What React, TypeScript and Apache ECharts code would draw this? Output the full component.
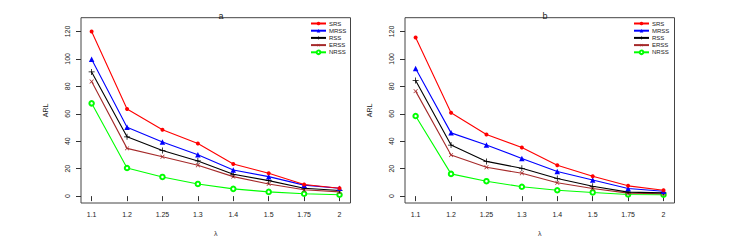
import React, { useEffect, useRef } from "react";
import * as echarts from "echarts";

const lambdas = ["1.1", "1.2", "1.25", "1.3", "1.4", "1.5", "1.75", "2"];
const yTicks = [0, 20, 40, 60, 80, 100, 120];
const seriesNames = ["SRS", "MRSS", "RSS", "ERSS", "NRSS"];

// Panel a
const aSRS = [120, 63.5, 48.3, 38.4, 23.4, 16.7, 8.5, 5.8];
const aMRSS = [99.7, 50.2, 39.4, 30.2, 19.1, 14.2, 8.0, 5.8];
const aRSS = [90.5, 43.2, 33.3, 25.6, 15.9, 11.3, 5.8, 4.1];
const aERSS = [83.5, 34.8, 28.7, 22.5, 14.2, 8.9, 4.6, 3.1];
const aNRSS = [67.6, 20.5, 14.0, 8.9, 5.3, 3.1, 1.7, 1.0];

// Panel b
const bSRS = [115.6, 60.8, 44.9, 35.5, 22.5, 14.5, 7.5, 4.3];
const bMRSS = [93.0, 46.1, 37.2, 27.5, 17.9, 11.8, 5.6, 3.6];
const bRSS = [84.3, 37.2, 25.3, 20.3, 12.8, 7.2, 2.9, 2.4];
const bERSS = [76.5, 29.9, 21.0, 16.7, 9.7, 5.6, 2.2, 1.7];
const bNRSS = [58.4, 16.2, 10.9, 6.8, 4.3, 2.7, 1.2, 1.0];

const colors = ["#ff0000", "#0000ff", "#000000", "#a52a2a", "#00ff00"];
const plusPath =
  "path://M3.5,0h1v3.5h3.5v1h-3.5v3.5h-1v-3.5h-3.5v-1h3.5z";
const symbols = ["circle", "triangle", plusPath, plusPath, "emptyCircle"];
const symbolSizes = [4, 5.5, 6, 5.5, 4.5];
const symbolRotates = [0, 0, 0, 45, 0];

const FONT = "Liberation Sans, Arial, sans-serif";

export default function App() {
  const ref = useRef<HTMLDivElement>(null);

  useEffect(() => {
    if (!ref.current) return;
    const chart = echarts.init(ref.current, undefined, { renderer: "svg" });

    const panels = [
      [aSRS, aMRSS, aRSS, aERSS, aNRSS],
      [bSRS, bMRSS, bRSS, bERSS, bNRSS],
    ];
    const gridLefts = [81, 405];
    const gridW = 269.5;
    const gridTop = 17.7;
    const gridH = 186.6;
    const xIdx = lambdas.map((_, i) => i + 1);

    const grids = gridLefts.map((l) => ({
      left: l,
      top: gridTop,
      width: gridW,
      height: gridH,
      show: true,
      borderColor: "#444",
      borderWidth: 1,
      backgroundColor: "transparent",
    }));

    const xAxes = gridLefts.map((_, gi) => ({
      type: "value",
      gridIndex: gi,
      min: 0.7,
      max: 8.31,
      name: "λ",
      nameLocation: "middle",
      nameGap: 27,
      nameTextStyle: { fontSize: 7, color: "#333", fontFamily: FONT },
      axisLine: { show: false },
      splitLine: { show: false },
      axisTick: {
        show: true,
        inside: false,
        length: 5,
        customValues: xIdx,
        lineStyle: { color: "#333", width: 1 },
      },
      axisLabel: {
        customValues: xIdx,
        formatter: (v: number) => lambdas[Math.round(v) - 1] ?? "",
        fontSize: 7,
        color: "#222",
        fontFamily: FONT,
        margin: 8,
      },
    }));

    const yAxes = gridLefts.map((_, gi) => ({
      type: "value",
      gridIndex: gi,
      min: -5,
      max: 130,
      name: "ARL",
      nameLocation: "middle",
      nameGap: 32,
      nameRotate: 90,
      nameTextStyle: { fontSize: 7, color: "#222", fontFamily: FONT },
      axisLine: { show: false },
      splitLine: { show: false },
      axisTick: {
        show: true,
        inside: false,
        length: 5,
        customValues: yTicks,
        lineStyle: { color: "#333", width: 1 },
      },
      axisLabel: {
        customValues: yTicks,
        rotate: 90,
        fontSize: 7,
        color: "#222",
        fontFamily: FONT,
        margin: 10,
      },
    }));

    const series: any[] = [];
    panels.forEach((panel, gi) => {
      panel.forEach((vals, si) => {
        series.push({
          type: "line",
          name: seriesNames[si],
          xAxisIndex: gi,
          yAxisIndex: gi,
          data: vals.map((v, i) => [xIdx[i], v]),
          symbol: symbols[si],
          symbolSize: symbolSizes[si],
          symbolRotate: symbolRotates[si],
          showAllSymbol: true,
          itemStyle: { color: colors[si], borderWidth: 1 },
          lineStyle: { color: colors[si], width: 1.1 },
          z: 10 - si,
        });
      });
    });

    const legends = [310, 633].map((l) => ({
      orient: "vertical",
      left: l,
      top: 20.5,
      data: seriesNames,
      itemWidth: 15,
      itemHeight: 4.5,
      itemGap: 1.2,
      padding: 0,
      selectedMode: false,
      textStyle: {
        fontSize: 6,
        lineHeight: 5.5,
        color: "#222",
        fontFamily: FONT,
        padding: [0, 0, 0, -2],
      },
    }));

    chart.setOption({
      animation: false,
      backgroundColor: "#ffffff",
      title: [
        {
          text: "a",
          left: 216,
          top: 6,
          textAlign: "center",
          textStyle: { fontSize: 9, fontWeight: "normal", color: "#222", fontFamily: FONT },
        },
        {
          text: "b",
          left: 540,
          top: 6,
          textAlign: "center",
          textStyle: { fontSize: 9, fontWeight: "normal", color: "#222", fontFamily: FONT },
        },
      ],
      legend: legends,
      grid: grids,
      xAxis: xAxes,
      yAxis: yAxes,
      series,
    });

    return () => chart.dispose();
  }, []);

  return (
    <div
      ref={ref}
      style={{ position: "fixed", left: 0, top: 0, width: 729, height: 242 }}
    />
  );
}
